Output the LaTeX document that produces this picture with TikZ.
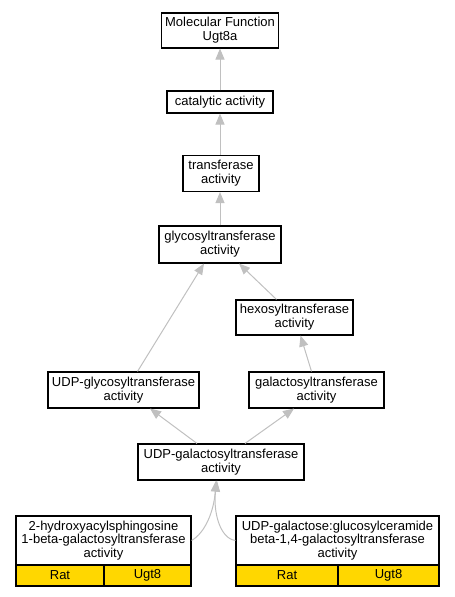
\documentclass[tikz,border=0pt]{standalone}
\usepackage{fontspec}
\setmainfont{Liberation Sans}
\usetikzlibrary{arrows.meta,calc}
\definecolor{edgegray}{RGB}{192,192,192}
\definecolor{goldcell}{RGB}{255,215,0}
\tikzset{
  gobox/.style={draw=black, line width=1.1pt, fill=white, align=center, inner sep=0pt,
    font=\fontsize{13}{13.8}\selectfont, anchor=center},
  cellbox/.style={gobox, fill=goldcell},
  isa/.style={draw=edgegray, line width=1pt, -{Triangle[length=11pt,width=9pt,fill=edgegray]}},
}
\begin{document}
\begin{tikzpicture}[x=1pt,y=-1pt]
\useasboundingbox (0,0) rectangle (455,597);
\node[gobox, minimum width=117pt, minimum height=35pt] (mf) at (220,30.5) {Molecular Function\\Ugt8a};
\node[gobox, minimum width=106pt, minimum height=22pt] (cat) at (220,102) {catalytic activity};
\node[gobox, minimum width=76pt, minimum height=36pt] (trans) at (221,173.5) {transferase\\activity};
\node[gobox, minimum width=122pt, minimum height=37pt] (glyco) at (220,244.5) {glycosyltransferase\\activity};
\node[gobox, minimum width=117pt, minimum height=35pt] (hexo) at (294.5,317.5) {hexosyltransferase\\activity};
\node[gobox, minimum width=151pt, minimum height=36pt] (udpgly) at (123.5,390) {UDP-glycosyltransferase\\activity};
\node[gobox, minimum width=135pt, minimum height=36pt] (galacto) at (316.5,390) {galactosyltransferase\\activity};
\node[gobox, minimum width=166pt, minimum height=36pt] (udpgal) at (221,462) {UDP-galactosyltransferase\\activity};
\node[gobox, minimum width=175pt, minimum height=49pt] (hyd) at (103.5,540.5) {2-hydroxyacylsphingosine\\1-beta-galactosyltransferase\\activity};
\node[cellbox, minimum width=88pt, minimum height=21pt] (hydrat) at (60,575.5) {Rat};
\node[cellbox, minimum width=87pt, minimum height=21pt] (hydgene) at (147.5,575.5) {Ugt8};
\node[gobox, minimum width=203pt, minimum height=49pt] (glc) at (337.5,540.5) {UDP-galactose:glucosylceramide\\beta-1,4-galactosyltransferase\\activity};
\node[cellbox, minimum width=102pt, minimum height=21pt] (glcrat) at (287,575.5) {Rat};
\node[cellbox, minimum width=101pt, minimum height=21pt] (glcgene) at (388.5,575.5) {Ugt8};
\coordinate (tipa) at ([xshift=-5pt]udpgal.south);
\coordinate (tipb) at ([xshift=-4pt]udpgal.south);

\draw[isa] (cat.north) -- (mf.south);
\draw[isa] ([xshift=-1pt]trans.north) -- (cat.south);
\draw[isa] (glyco.north) -- ([xshift=-1pt]trans.south);
\draw[isa] ([xshift=14pt]udpgly.north) -- ([xshift=-16pt]glyco.south);
\draw[isa] ([xshift=-18pt]hexo.north) -- ([xshift=19pt]glyco.south);
\draw[isa] ([xshift=-5pt]galacto.north) -- ([xshift=6pt]hexo.south);
\draw[isa] ([xshift=-24pt]udpgal.north) -- ([xshift=26.5pt]udpgly.south);
\draw[isa] ([xshift=24pt]udpgal.north) -- ([xshift=-22.5pt]galacto.south);
\draw[isa] (hyd.east) .. controls ($(hyd.east)+(14,-8)$) and ($(tipa)+(-2,30)$) .. (tipa);
\draw[isa] (glc.west) .. controls ($(glc.west)+(-16,-2)$) and ($(tipb)+(-4,30)$) .. (tipb);
\end{tikzpicture}
\end{document}
